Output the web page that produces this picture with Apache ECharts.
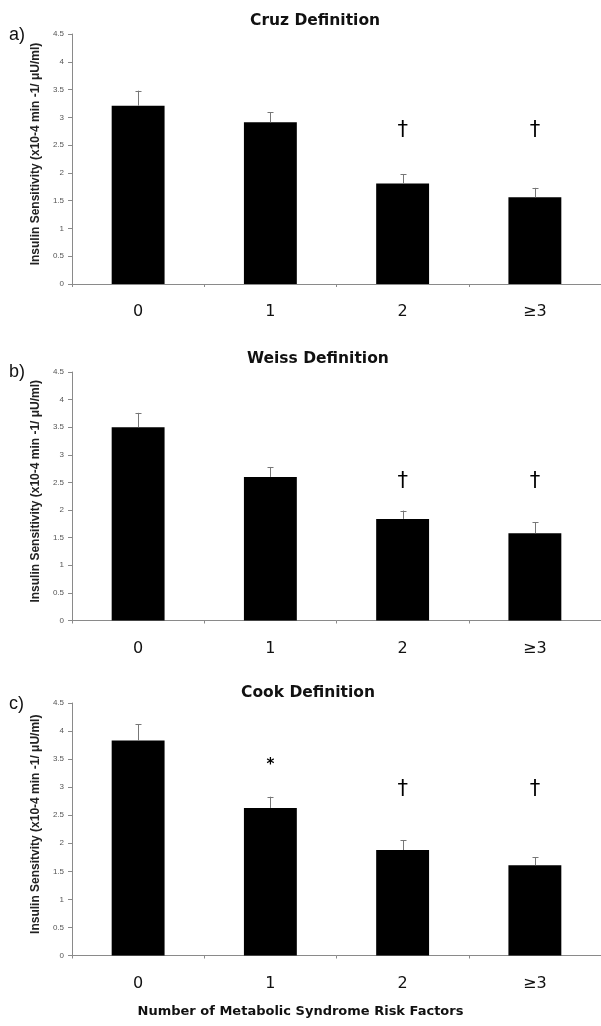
<!DOCTYPE html>
<html>
<head>
<meta charset="utf-8">
<script src="https://cdn.jsdelivr.net/npm/echarts@6/dist/echarts.min.js"></script>
<style>
html,body{margin:0;padding:0;background:#fff;}
#chart{width:601px;height:1026px;}
</style>
</head>
<body>
<div id="chart"></div>
<script>
// ---- data ----
var categories = ['0', '1', '2', '≥3'];
var panelTitles = ['Cruz Definition', 'Weiss Definition', 'Cook Definition'];
var panelLetters = ['a)', 'b)', 'c)'];
var yNames = [
  'Insulin Sensitivity (x10-4 min -1/ μU/ml)',
  'Insulin Sensitivity (x10-4 min -1/ μU/ml)',
  'Insulin Sensitvity (x10-4 min -1/ μU/ml)'
];
var yTicks = [0, 0.5, 1, 1.5, 2, 2.5, 3, 3.5, 4, 4.5];
var cruzMean  = [3.21, 2.91, 1.81, 1.56];
var cruzSE    = [0.27, 0.18, 0.17, 0.17];
var weissMean = [3.50, 2.60, 1.84, 1.58];
var weissSE   = [0.26, 0.18, 0.15, 0.20];
var cookMean  = [3.83, 2.63, 1.88, 1.61];
var cookSE    = [0.29, 0.20, 0.17, 0.14];
var cruzMarks  = ['', '', '†', '†'];
var cruzMarkY  = [null, null, 2.77, 2.77];
var weissMarks = ['', '', '†', '†'];
var weissMarkY = [null, null, 2.52, 2.52];
var cookMarks  = ['', '*', '†', '†'];
var cookMarkY  = [null, 3.39, 2.95, 2.95];
var xTitle = 'Number of Metabolic Syndrome Risk Factors';

var means = [cruzMean, weissMean, cookMean];
var ses = [cruzSE, weissSE, cookSE];
var marks = [cruzMarks, weissMarks, cookMarks];
var markY = [cruzMarkY, weissMarkY, cookMarkY];

// ---- layout ----
var grids = [
  {left: 72, right: 0, top: 34, height: 250},
  {left: 72, right: 0, top: 372, height: 248.5},
  {left: 72, right: 0, top: 703, height: 252.5}
];
var titlePos = [{left: 250, top: 13}, {left: 247, top: 351}, {left: 241, top: 685}];
var letterTop = [26, 363, 695];

var axisColor = '#8a8a8a';
var xAxes = [], yAxes = [], series = [], titles = [], graphics = [];
var symbolsBySeries = {};
for (var p = 0; p < 3; p++) {
  xAxes.push({
    type: 'category', gridIndex: p, data: categories,
    axisLine: {lineStyle: {color: axisColor, width: 1}},
    axisTick: {show: true, length: 3, lineStyle: {color: axisColor}},
    axisLabel: {color: '#111', fontSize: 16, fontFamily: 'DejaVu Sans', margin: 20}
  });
  yAxes.push({
    type: 'value', gridIndex: p, min: 0, max: 4.5, interval: 0.5,
    splitLine: {show: false},
    axisLine: {show: true, lineStyle: {color: axisColor, width: 1}},
    axisTick: {show: true, length: 4, lineStyle: {color: axisColor}},
    axisLabel: {color: '#555', fontSize: 8, fontFamily: 'Liberation Sans', margin: 8,
      formatter: function (v) { return String(v); }},
    name: yNames[p], nameLocation: 'middle', nameRotate: 90, nameGap: 30,
    nameTextStyle: {fontSize: 12, fontWeight: 'bold', fontFamily: 'Liberation Sans', color: '#222',
      padding: [0, 0, 0, 10]}
  });
  series.push({
    type: 'bar', xAxisIndex: p, yAxisIndex: p, data: means[p], barWidth: '40%',
    itemStyle: {color: '#000'}, silent: true
  });
  var errData = means[p].map(function (m, i) { return [i, m, m + ses[p][i]]; });
  series.push({
    type: 'custom', xAxisIndex: p, yAxisIndex: p, data: errData, silent: true, z: 5,
    renderItem: function (params, api) {
      var lo = api.coord([api.value(0), api.value(1)]);
      var hi = api.coord([api.value(0), api.value(2)]);
      var x = Math.round(lo[0]) + 0.5;
      return {
        type: 'group',
        children: [
          {type: 'line', shape: {x1: x, y1: lo[1], x2: x, y2: hi[1]}, style: {stroke: '#777', lineWidth: 1}},
          {type: 'line', shape: {x1: x - 3, y1: Math.round(hi[1]) + 0.5, x2: x + 3, y2: Math.round(hi[1]) + 0.5}, style: {stroke: '#777', lineWidth: 1}}
        ]
      };
    }
  });
  var mData = [];
  for (var i = 0; i < categories.length; i++) {
    if (markY[p][i] != null) mData.push([i, markY[p][i]]);
  }
  symbolsBySeries[series.length] = marks[p].filter(function (s, i) { return markY[p][i] != null; });
  series.push({
    type: 'custom', xAxisIndex: p, yAxisIndex: p, data: mData, silent: true, z: 6,
    renderItem: function (params, api) {
      var c = api.coord([api.value(0), api.value(1)]);
      var sym = symbolsBySeries[params.seriesIndex][params.dataIndex];
      var isStar = sym === '*';
      return {
        type: 'text', x: c[0], y: c[1],
        style: {text: sym, fill: '#000', align: 'center', verticalAlign: 'middle',
          fontSize: isStar ? 15 : 21, fontWeight: isStar ? 'bold' : 'normal', fontFamily: 'DejaVu Sans'}
      };
    }
  });
  titles.push({
    text: panelTitles[p], left: titlePos[p].left, top: titlePos[p].top, padding: 0,
    textStyle: {fontSize: 15.5, fontWeight: 'bold', fontFamily: 'DejaVu Sans', color: '#111'}
  });
  graphics.push({
    type: 'text', left: 9, top: letterTop[p],
    style: {text: panelLetters[p], fontSize: 18, fontFamily: 'Liberation Sans', fill: '#111'}
  });
}
graphics.push({
  type: 'text', left: 'center', top: 1005,
  style: {text: xTitle, fontSize: 13, fontWeight: 'bold', fontFamily: 'DejaVu Sans', fill: '#111'}
});

var chart = echarts.init(document.getElementById('chart'), null, {renderer: 'canvas'});
chart.setOption({
  animation: false,
  backgroundColor: '#fff',
  title: titles,
  grid: grids,
  xAxis: xAxes,
  yAxis: yAxes,
  series: series,
  graphic: graphics
});
</script>
</body>
</html>
